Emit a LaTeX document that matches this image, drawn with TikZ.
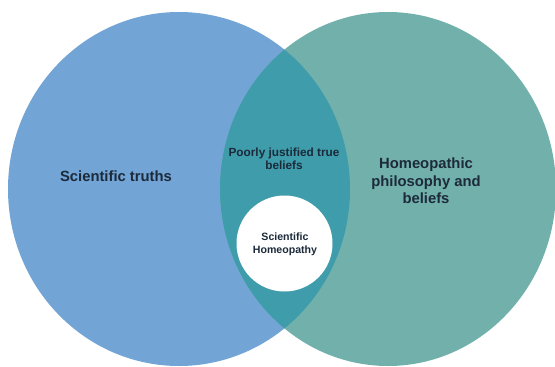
\documentclass[tikz,border=0pt]{standalone}
\usepackage{fontspec}
\setmainfont{Liberation Sans}
\definecolor{leftblue}{HTML}{72A4D5}
\definecolor{rightteal}{HTML}{72B1AB}
\definecolor{midteal}{HTML}{3E9CAB}
\definecolor{txt}{HTML}{1C2A3A}
\tikzset{
  lbl/.style={text=txt, font=\bfseries, align=center, inner sep=0pt},
}
\begin{document}
\begin{tikzpicture}[x=1pt,y=-1pt]
\useasboundingbox (0,0) rectangle (555,367);
\clip (0,0) rectangle (555,367);
\fill[leftblue] (179,189) ellipse [x radius=171, y radius=177];
\fill[rightteal] (388,189) ellipse [x radius=168, y radius=177];
\begin{scope}
  \clip (179,189) ellipse [x radius=171, y radius=177];
  \fill[midteal] (388,189) ellipse [x radius=168, y radius=177];
\end{scope}
\fill[white] (284.5,243.5) circle [radius=48];
\node[lbl, font=\bfseries\fontsize{14.8}{18}\selectfont] (sci) at (116,176) {Scientific truths};
\node[lbl, font=\bfseries\fontsize{14.8}{17.5}\selectfont] (homeo) at (426,181) {Homeopathic\\philosophy and\\beliefs};
\node[lbl, font=\bfseries\fontsize{11.8}{13}\selectfont] (poor) at (284,158.5) {Poorly justified true\\beliefs};
\node[lbl, font=\bfseries\fontsize{10.6}{13}\selectfont] (scihom) at (285,244.5) {Scientific\\Homeopathy};
\end{tikzpicture}
\end{document}
